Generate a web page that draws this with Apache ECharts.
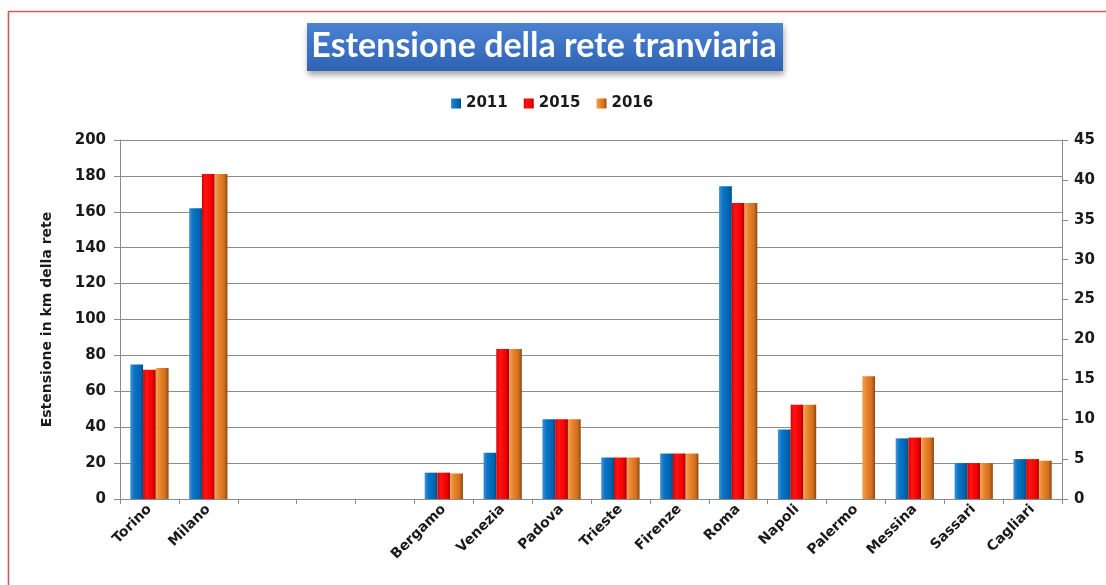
<!DOCTYPE html>
<html>
<head>
<meta charset="utf-8">
<script src="https://cdn.jsdelivr.net/npm/echarts@6/dist/echarts.min.js"></script>
<style>
  html, body { margin: 0; padding: 0; background: #ffffff; }
  #chart { width: 1106px; height: 585px; }
</style>
</head>
<body>
<div id="chart"></div>
<script>
// Categories: two big networks on the left axis, a gap, then the smaller networks on the right axis
const bigCities = ['Torino', 'Milano'];
const gapSlots = ['', '', ''];
const smallCities = ['Bergamo', 'Venezia', 'Padova', 'Trieste', 'Firenze', 'Roma', 'Napoli', 'Palermo', 'Messina', 'Sassari', 'Cagliari'];
const years = ['2011', '2015', '2016'];

// Left axis values (km)
const big2011 = [75, 162];
const big2015 = [72, 181];
const big2016 = [73, 181];

// Right axis values (km)
const small2011 = [3.3, 5.8, 10, 5.2, 5.7, 39.2, 8.7, null, 7.6, 4.5, 5.0];
const small2015 = [3.3, 18.8, 10, 5.2, 5.7, 37.1, 11.8, null, 7.7, 4.5, 5.0];
const small2016 = [3.2, 18.8, 10, 5.2, 5.7, 37.1, 11.8, 15.4, 7.7, 4.5, 4.8];

// Axis ticks
const leftTicks = { min: 0, max: 200, interval: 20 };
const rightTicks = { min: 0, max: 45, interval: 5 };

const categories = bigCities.concat(gapSlots, smallCities);
const FONT = '"DejaVu Sans", sans-serif';
const TITLE_FONT = 'Lato, "Open Sans", sans-serif';
const INK = '#1a1a1a';

function grad(stops) {
  return new echarts.graphic.LinearGradient(0, 0, 1, 0,
    stops.map(function (s) { return { offset: s[0], color: s[1] }; }));
}
const fills = [
  grad([[0, '#3d93db'], [0.3, '#0b74c6'], [0.8, '#0064ae'], [1, '#00477c']]),
  grad([[0, '#d40000'], [0.25, '#ff1414'], [0.75, '#f20000'], [1, '#9c0000']]),
  grad([[0, '#f3a455'], [0.3, '#ea862e'], [0.75, '#d26e1d'], [1, '#874812']])
];

const pad = function (n) { return new Array(n).fill('-'); };
const bigData = [big2011, big2015, big2016];
const smallData = [small2011, small2015, small2016];

const series = [];
years.forEach(function (y, i) {
  series.push({
    name: y, type: 'bar', xAxisIndex: 0, yAxisIndex: 0,
    barGap: '0%', barCategoryGap: '35%',
    itemStyle: { color: fills[i] },
    data: bigData[i].concat(pad(gapSlots.length + smallCities.length))
  });
});
years.forEach(function (y, i) {
  series.push({
    name: y, type: 'bar', xAxisIndex: 1, yAxisIndex: 1,
    barGap: '0%', barCategoryGap: '35%',
    itemStyle: { color: fills[i] },
    data: pad(bigCities.length + gapSlots.length).concat(smallData[i].map(function (v) { return v == null ? '-' : v; }))
  });
});

const chart = echarts.init(document.getElementById('chart'), null, { renderer: 'canvas' });
chart.setOption({
  backgroundColor: '#ffffff',
  animation: false,
  textStyle: { fontFamily: FONT },
  graphic: [
    {
      type: 'rect', silent: true, z: -10,
      shape: { x: 8.5, y: 11.5, width: 1200, height: 700 },
      style: { fill: 'none', stroke: '#cf5a5f', lineWidth: 1.6 }
    },
    {
      type: 'rect', silent: true,
      shape: { x: 307, y: 23, width: 476, height: 48 },
      style: {
        fill: new echarts.graphic.LinearGradient(0, 0, 0, 1, [
          { offset: 0, color: '#4b82d2' }, { offset: 1, color: '#2f62b2' }
        ]),
        shadowBlur: 6, shadowOffsetY: 4, shadowOffsetX: 1, shadowColor: 'rgba(0,0,0,0.35)'
      }
    },
    {
      type: 'text', silent: true, x: 544, y: 46,
      style: {
        text: 'Estensione della rete tranviaria',
        fill: '#ffffff', font: 'bold 34px ' + TITLE_FONT,
        align: 'center', verticalAlign: 'middle'
      }
    }
  ],
  legend: {
    data: years,
    top: 91, left: 446,
    itemWidth: 10, itemHeight: 10, itemGap: 16,
    icon: 'rect',
    textStyle: { fontFamily: FONT, fontWeight: 'bold', fontSize: 15, color: INK }
  },
  grid: { left: 120, right: 44, top: 140, bottom: 86, containLabel: false },
  xAxis: [
    {
      type: 'category', data: categories, position: 'bottom',
      axisLine: { lineStyle: { color: '#8a8a8a', width: 1 } },
      axisTick: { show: true, length: 5, lineStyle: { color: '#8a8a8a' } },
      axisLabel: {
        interval: 0, rotate: 45, margin: 8,
        fontFamily: FONT, fontWeight: 'bold', fontSize: 14, color: INK
      }
    },
    {
      type: 'category', data: categories, position: 'bottom', show: false
    }
  ],
  yAxis: [
    {
      type: 'value', position: 'left',
      min: leftTicks.min, max: leftTicks.max, interval: leftTicks.interval,
      name: 'Estensione in km della rete', nameLocation: 'middle', nameGap: 66,
      nameTextStyle: { fontFamily: FONT, fontWeight: 'bold', fontSize: 14, color: INK },
      axisLine: { show: true, lineStyle: { color: '#8a8a8a' } },
      axisTick: { show: true, length: 6, lineStyle: { color: '#8a8a8a' } },
      splitLine: { show: true, lineStyle: { color: '#8c8c8c', width: 1 } },
      axisLabel: { margin: 14, fontFamily: FONT, fontWeight: 'bold', fontSize: 15, color: INK }
    },
    {
      type: 'value', position: 'right',
      min: rightTicks.min, max: rightTicks.max, interval: rightTicks.interval,
      axisLine: { show: true, lineStyle: { color: '#8a8a8a' } },
      axisTick: { show: true, length: 6, lineStyle: { color: '#8a8a8a' } },
      splitLine: { show: false },
      axisLabel: { margin: 12, fontFamily: FONT, fontWeight: 'bold', fontSize: 15, color: INK }
    }
  ],
  series: series
});
</script>
</body>
</html>
